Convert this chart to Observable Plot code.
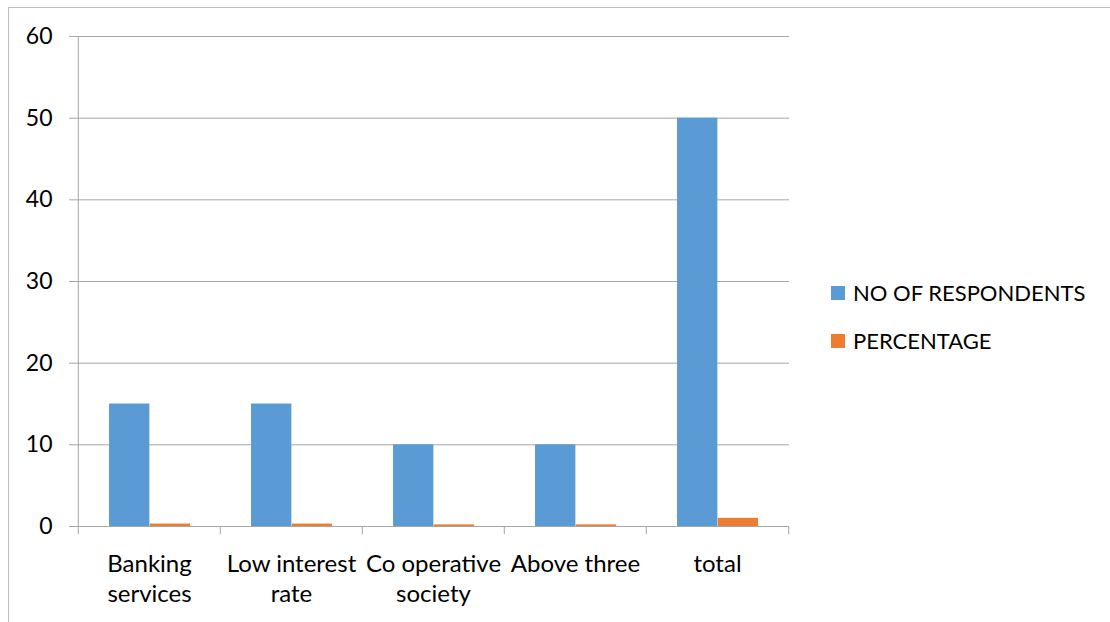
<!DOCTYPE html>
<html>
<head>
<meta charset="utf-8">
<script src="https://cdn.jsdelivr.net/npm/d3@7"></script>
<script src="https://cdn.jsdelivr.net/npm/@observablehq/plot@0.6"></script>
<style>
  html, body { margin: 0; padding: 0; background: #fff; }
  #chart { position: relative; width: 1110px; height: 622px; overflow: hidden; font-family: Lato, "Open Sans", sans-serif; }
  #chart .border { position: absolute; left: 8px; top: 7px; right: -2px; bottom: -2px; border-top: 1px solid #bfbfbf; border-left: 1px solid #bfbfbf; pointer-events: none; }
  #chart svg { position: absolute; left: 0; top: 0; }
  #legend { position: absolute; left: 831px; top: 279px; font-size: 22px; color: #000; }
  #legend .item { display: flex; align-items: center; height: 27px; margin-bottom: 21px; white-space: nowrap; }
  #legend .swatch { width: 14px; height: 14px; margin-right: 8px; flex: none; }
</style>
</head>
<body>
<div id="chart"><div class="border"></div></div>
<script>
// Survey answers and their share of respondents
const categories = ["Banking services", "Low interest rate", "Co operative society", "Above three", "total"];
const tickLabels = ["Banking\nservices", "Low interest\nrate", "Co operative\nsociety", "Above three", "total"];
const respondents = [15, 15, 10, 10, 50];
const percentage = [0.3, 0.3, 0.2, 0.2, 1];
const seriesNames = ["NO OF RESPONDENTS", "PERCENTAGE"];
const seriesColors = ["#5b9bd5", "#ed7d31"];
const yTicks = [0, 10, 20, 30, 40, 50, 60];

const rows = [];
categories.forEach((c, i) => {
  rows.push({category: c, series: seriesNames[0], value: respondents[i]});
  rows.push({category: c, series: seriesNames[1], value: percentage[i]});
});

const W = 1110, H = 622;
const mL = 77, mR = 321, mT = 36, mB = 96;
const band = (W - mL - mR) / categories.length;
const barW = band * 0.286;
const gapL = band * 0.218;
const gridColor = "#a6a6a6";
const labelOf = new Map(categories.map((c, i) => [c, tickLabels[i]]));

const chart = Plot.plot({
  width: W,
  height: H,
  marginLeft: mL,
  marginRight: mR,
  marginTop: mT,
  marginBottom: mB,
  style: {fontFamily: "Lato, 'Open Sans', sans-serif", fontSize: "22px", color: "#000", background: "transparent"},
  x: {domain: categories, padding: 0, axis: null},
  y: {domain: [0, 60], axis: null},
  color: {domain: seriesNames, range: seriesColors},
  marks: [
    Plot.gridY(yTicks, {stroke: gridColor, strokeOpacity: 1}),
    Plot.axisY({ticks: yTicks, tickSize: 8, tickPadding: 17, fontSize: 23, stroke: gridColor, fill: "#000", label: null}),
    // vertical axis line and category divider ticks
    Plot.ruleX([categories[0]], {x: d => d, dx: -band / 2, y1: -1, y2: 60, stroke: gridColor}),
    Plot.ruleX(categories.slice(1), {x: d => d, dx: -band / 2, y1: -1, y2: 0, stroke: gridColor}),
    Plot.ruleX([categories[categories.length - 1]], {x: d => d, dx: band / 2, y1: -1, y2: 0, stroke: gridColor}),
    Plot.barY(rows.filter(d => d.series === seriesNames[0]), {
      x: "category", y: "value", fill: "series",
      insetLeft: gapL, insetRight: band - gapL - barW
    }),
    Plot.barY(rows.filter(d => d.series === seriesNames[1]), {
      x: "category", y: "value", fill: "series",
      insetLeft: gapL + barW, insetRight: band - gapL - 2 * barW
    }),
    Plot.axisX({tickSize: 0, tickPadding: 24, fontSize: 24, lineHeight: 1.25, fill: "#000", label: null,
      tickFormat: d => labelOf.get(d)})
  ]
});

const host = document.getElementById("chart");
host.insertBefore(chart, host.firstChild);

const legend = document.createElement("div");
legend.id = "legend";
seriesNames.forEach((name, i) => {
  const item = document.createElement("div");
  item.className = "item";
  const sw = document.createElement("span");
  sw.className = "swatch";
  sw.style.background = seriesColors[i];
  const label = document.createElement("span");
  label.textContent = name;
  item.appendChild(sw);
  item.appendChild(label);
  legend.appendChild(item);
});
host.appendChild(legend);
</script>
</body>
</html>
